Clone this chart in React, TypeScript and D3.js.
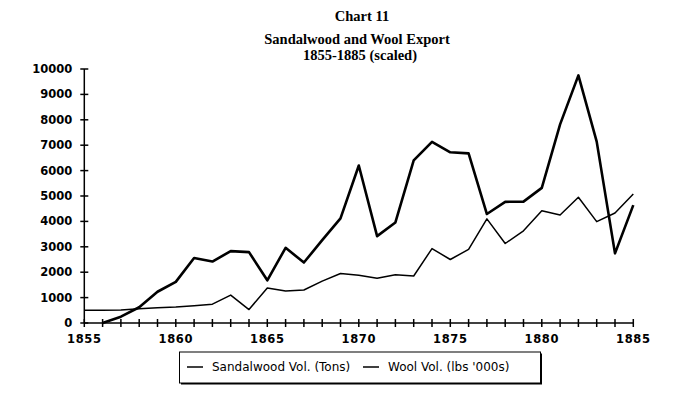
import React from "react";
import { scaleLinear, line, range } from "d3";

const width = 700;
const height = 393;

const years = range(1855, 1886);
// Sandalwood starts in 1856
const sandalYears = range(1856, 1886);
const sandalwood = [
  0, 250, 620, 1230, 1620, 2560, 2420, 2830, 2790, 1680, 2960, 2380, 3260,
  4120, 6200, 3420, 3960, 6400, 7130, 6720, 6680, 4290, 4770, 4780, 5320,
  7820, 9750, 7140, 2740, 4640,
];
const wool = [
  500, 500, 510, 560, 600, 630, 680, 740, 1100, 530, 1380, 1260, 1300, 1650,
  1950, 1880, 1760, 1900, 1850, 2930, 2500, 2900, 4100, 3130, 3630, 4420,
  4250, 4950, 3990, 4330, 5080,
];
const yTicks = range(0, 10001, 1000);
const xLabels = [1855, 1860, 1865, 1870, 1875, 1880, 1885];
const legendItems = ["Sandalwood Vol. (Tons)", "Wool Vol. (lbs '000s)"];

const x = scaleLinear().domain([1855, 1885]).range([84.3, 633.3]);
const y = scaleLinear().domain([0, 10000]).range([323, 69]);

const mkLine = line<[number, number]>()
  .x((d) => x(d[0]))
  .y((d) => y(d[1]));

const titleFont = "'Liberation Serif', 'Times New Roman', serif";
const axisFont = "'DejaVu Sans', Verdana, sans-serif";

const App = () => {
  const sandalPts = sandalYears.map((yr, i) => [yr, sandalwood[i]] as [number, number]);
  const woolPts = years.map((yr, i) => [yr, wool[i]] as [number, number]);
  return (
    <svg
      width={width}
      height={height}
      style={{ position: "absolute", left: 0, top: 0, background: "#fff" }}
    >
      <g fontFamily={titleFont} fontWeight="bold" textAnchor="middle" fill="#000">
        <text x={362} y={21} fontSize={14.5}>Chart 11</text>
        <text x={357} y={44} fontSize={14.5}>Sandalwood and Wool Export</text>
        <text x={360} y={60} fontSize={14.5}>1855-1885 (scaled)</text>
      </g>

      {/* y axis */}
      <line x1={x(1855)} x2={x(1855)} y1={y(0)} y2={y(10000)} stroke="#000" strokeWidth={1.5} />
      {yTicks.map((t) => (
        <g key={t} transform={`translate(0,${y(t)})`}>
          <line x1={x(1855) - 4} x2={x(1855) + 4} stroke="#000" strokeWidth={1.5} />
          <text
            x={x(1855) - 12}
            dy="0.35em"
            textAnchor="end"
            fontFamily={axisFont}
            fontSize={11.5}
            fontWeight="bold"
          >
            {t}
          </text>
        </g>
      ))}

      {/* x axis */}
      <line x1={x(1855)} x2={x(1885)} y1={y(0)} y2={y(0)} stroke="#000" strokeWidth={1.5} />
      {years.map((yr) => (
        <line
          key={yr}
          x1={x(yr)}
          x2={x(yr)}
          y1={y(0) - 4}
          y2={y(0) + 4}
          stroke="#000"
          strokeWidth={1.5}
        />
      ))}
      {xLabels.map((yr) => (
        <text
          key={yr}
          x={x(yr)}
          y={y(0) + 20}
          textAnchor="middle"
          fontFamily={axisFont}
          fontSize={11.5}
          fontWeight="bold"
          letterSpacing={0.6}
        >
          {yr}
        </text>
      ))}

      {/* series */}
      <path d={mkLine(woolPts) ?? ""} fill="none" stroke="#000" strokeWidth={1.5} strokeLinejoin="round" />
      <path d={mkLine(sandalPts) ?? ""} fill="none" stroke="#000" strokeWidth={2.6} strokeLinejoin="round" />

      {/* legend */}
      <rect x={181} y={353.5} width={361} height={31} fill="#000" />
      <rect x={179.5} y={352} width={361} height={31} fill="#fff" stroke="#000" strokeWidth={1} />
      {legendItems.map((label, i) => {
        const lx = i === 0 ? 187 : 363;
        return (
          <g key={label} transform={`translate(${lx},367)`}>
            <line x1={0} x2={16} stroke="#000" strokeWidth={1.5} />
            <text x={25} dy="0.35em" fontFamily={axisFont} fontSize={12}>
              {label}
            </text>
          </g>
        );
      })}
    </svg>
  );
};

export default App;
